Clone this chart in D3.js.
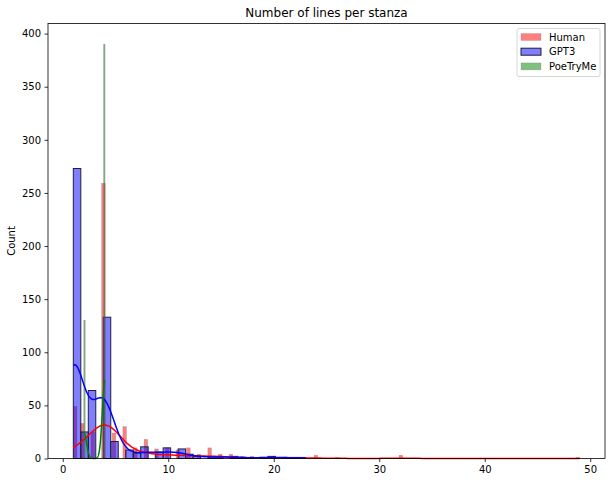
<!DOCTYPE html>
<html>
<head>
<meta charset="utf-8">
<script src="https://cdn.jsdelivr.net/npm/d3@7"></script>
<style>
body { margin: 0; background: #fff; }
svg { font-family: "DejaVu Sans", sans-serif; }
</style>
</head>
<body>
<svg id="chart" width="612" height="482"></svg>
<script>
// lines per stanza -> number of stanzas
const humanLines  = [1, 2, 3, 4, 5, 6, 7, 8, 9, 10, 11, 12, 13, 14, 15, 16, 17, 18, 19, 20, 21, 22, 24, 26, 32, 49];
const humanCounts = [49, 33, 25, 259, 24, 30, 10, 18, 9, 10, 8, 10, 4, 10, 4, 4, 2, 2, 1, 2, 1, 1, 3, 1, 3, 1];

const gpt3Lines  = [1, 2, 3, 4, 5, 6, 7, 8, 9, 10, 11, 12, 13, 14, 15, 16, 17, 18, 19, 20, 21, 22, 23];
const gpt3Counts = [273, 25, 64, 133, 16, 8, 5, 11, 6, 10, 9, 4, 2, 2, 2, 2, 1, 1, 1, 2, 1, 1, 1];

const poetrymeLines  = [2, 4];
const poetrymeCounts = [130, 390];

const seriesNames = ["Human", "GPT3", "PoeTryMe"];
const binNumbers = [143, 31, 17];   // numpy "auto" bins each call ended up with
const xTicks = [0, 10, 20, 30, 40, 50];
const yTicks = [0, 50, 100, 150, 200, 250, 300, 350, 400];

const fills   = ["rgba(255,0,0,0.5)", "rgba(0,0,255,0.5)", "rgba(0,128,0,0.5)"];
const edges   = ["rgba(120,120,120,0.45)", "#20203a", "rgba(110,110,110,0.55)"];
const edgeW   = [0.6, 1, 0.7];
const lineCol = ["red", "blue", "green"];

const series = [
  {lines: humanLines, counts: humanCounts},
  {lines: gpt3Lines, counts: gpt3Counts},
  {lines: poetrymeLines, counts: poetrymeCounts}
].map((s, i) => {
  const rows = s.lines.map((k, j) => ({k: k, n: s.counts[j]}));
  const lo = d3.min(s.lines), hi = d3.max(s.lines);
  const w = (hi - lo) / binNumbers[i];
  const thresholds = d3.range(1, binNumbers[i]).map(j => lo + j * w);
  const bins = d3.bin().value(d => d.k).domain([lo, hi]).thresholds(thresholds)(rows)
    .map(b => ({x0: b.x0, x1: b.x1, count: d3.sum(b, d => d.n)}));
  return {name: seriesNames[i], rows: rows, lo: lo, hi: hi, w: w, bins: bins};
});

// gaussian kde (scott), cut at data range, scaled to counts like seaborn
function kde(s) {
  const n = d3.sum(s.rows, d => d.n);
  const mean = d3.sum(s.rows, d => d.k * d.n) / n;
  const variance = d3.sum(s.rows, d => d.n * (d.k - mean) ** 2) / (n - 1);
  const bw = Math.sqrt(variance) * Math.pow(n, -0.2);
  const grid = d3.range(200).map(i => s.lo + (s.hi - s.lo) * i / 199);
  return grid.map(x => {
    let dens = 0;
    s.rows.forEach(d => {
      const z = (x - d.k) / bw;
      dens += d.n * Math.exp(-0.5 * z * z);
    });
    dens = dens / (n * bw * Math.sqrt(2 * Math.PI));
    return [x, dens * n * s.w];
  });
}

const svg = d3.select("#chart");
const margin = {left: 48, right: 7, top: 23.5, bottom: 23.5};
const width = 612, height = 482;

const allMin = d3.min(series, s => s.lo), allMax = d3.max(series, s => s.hi);
const pad = (allMax - allMin) * 0.05;
const x = d3.scaleLinear().domain([allMin - pad, allMax + pad])
    .range([margin.left, width - margin.right]);
const topCount = d3.max(series, s => d3.max(s.bins, b => b.count));
const y = d3.scaleLinear().domain([0, topCount * 1.05])
    .range([height - margin.bottom, margin.top]);

// bars first (patches sit under lines)
series.forEach((s, i) => {
  svg.append("g")
    .selectAll("rect")
    .data(s.bins.filter(b => b.count > 0))
    .enter().append("rect")
    .attr("x", b => x(b.x0))
    .attr("y", b => y(b.count))
    .attr("width", b => x(b.x1) - x(b.x0))
    .attr("height", b => y(0) - y(b.count))
    .attr("fill", fills[i])
    .attr("stroke", edges[i])
    .attr("stroke-width", edgeW[i]);
});

series.forEach((s, i) => {
  svg.append("path")
    .datum(kde(s))
    .attr("fill", "none")
    .attr("stroke", lineCol[i])
    .attr("stroke-width", 1.5)
    .attr("d", d3.line().x(d => x(d[0])).y(d => y(d[1])));
});

// frame
svg.append("rect")
    .attr("x", margin.left).attr("y", margin.top)
    .attr("width", width - margin.left - margin.right)
    .attr("height", height - margin.top - margin.bottom)
    .attr("fill", "none").attr("stroke", "#000").attr("stroke-width", 0.8);

const xAxis = svg.append("g")
    .attr("transform", "translate(0," + (height - margin.bottom) + ")")
    .call(d3.axisBottom(x).tickValues(xTicks).tickSize(3.5).tickPadding(3.5));
const yAxis = svg.append("g")
    .attr("transform", "translate(" + margin.left + ",0)")
    .call(d3.axisLeft(y).tickValues(yTicks).tickSize(3.5).tickPadding(3.5));
[xAxis, yAxis].forEach(a => {
  a.select(".domain").remove();
  a.selectAll("text").attr("font-size", 10).attr("fill", "#000")
    .attr("font-family", "DejaVu Sans");
  a.selectAll("line").attr("stroke", "#000").attr("stroke-width", 0.8);
});

svg.append("text")
    .attr("x", (margin.left + width - margin.right) / 2)
    .attr("y", 17)
    .attr("text-anchor", "middle")
    .attr("font-size", 12)
    .text("Number of lines per stanza");

svg.append("text")
    .attr("transform", "translate(15," + ((margin.top + height - margin.bottom) / 2) + ") rotate(-90)")
    .attr("text-anchor", "middle")
    .attr("font-size", 10)
    .text("Count");

// legend
const legend = svg.append("g").attr("transform", "translate(517,28.5)");
legend.append("rect")
    .attr("width", 83).attr("height", 48)
    .attr("rx", 2)
    .attr("fill", "rgba(255,255,255,0.8)")
    .attr("stroke", "#ccc").attr("stroke-width", 0.8);
seriesNames.forEach((name, i) => {
  const row = legend.append("g").attr("transform", "translate(4," + (8.5 + i * 14.7) + ")");
  row.append("rect")
    .attr("width", 20).attr("height", 7).attr("y", -3.5)
    .attr("fill", fills[i])
    .attr("stroke", i === 1 ? edges[1] : "rgba(120,120,120,0.35)")
    .attr("stroke-width", i === 1 ? 1 : 0.6);
  row.append("text")
    .attr("x", 28).attr("dy", "0.35em")
    .attr("font-size", 10)
    .text(name);
});
</script>
</body>
</html>
